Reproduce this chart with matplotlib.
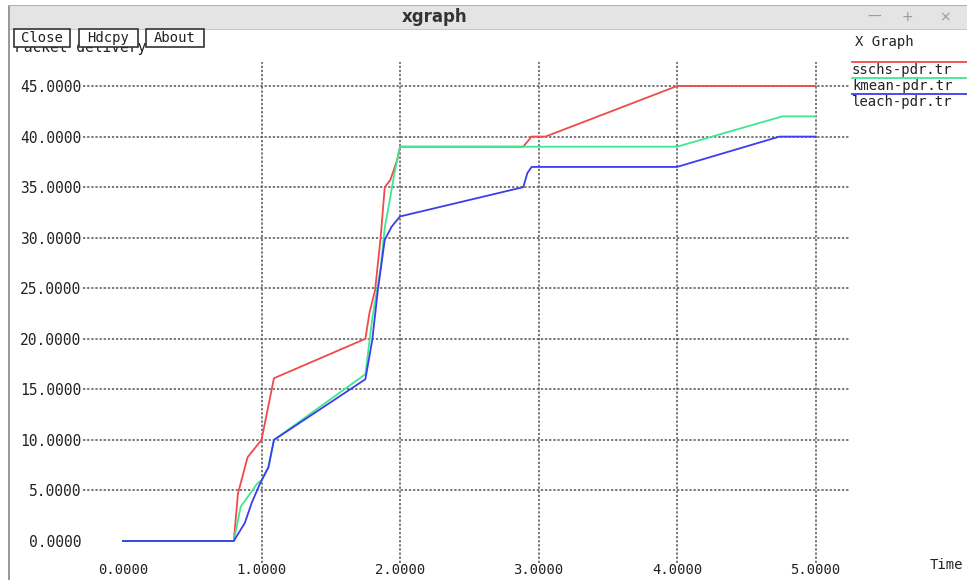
import numpy as np
import matplotlib.pyplot as plt
from matplotlib.patches import Rectangle

# Packet delivery over time for the three protocols
sschs_t = [0.0, 0.80, 0.83, 0.90, 1.00, 1.09, 1.75, 1.78, 1.82, 1.86, 1.89, 1.93, 1.98, 2.00, 2.89, 2.95, 3.05, 4.00, 5.00]
sschs_v = [0.0, 0.0, 4.7, 8.3, 10.0, 16.1, 20.0, 22.6, 24.8, 30.0, 35.0, 35.7, 37.7, 39.0, 39.0, 40.0, 40.0, 45.0, 45.0]

kmean_t = [0.0, 0.80, 0.85, 0.97, 1.00, 1.05, 1.09, 1.75, 1.80, 1.86, 1.89, 1.93, 1.96, 2.00, 4.00, 4.76, 5.00]
kmean_v = [0.0, 0.0, 3.4, 5.7, 6.0, 7.3, 10.0, 16.5, 22.0, 27.0, 31.0, 34.0, 36.4, 39.0, 39.0, 42.0, 42.0]

leach_t = [0.0, 0.80, 0.88, 0.93, 0.99, 1.05, 1.09, 1.75, 1.80, 1.84, 1.89, 1.94, 2.00, 2.89, 2.92, 2.95, 4.00, 4.74, 5.00]
leach_v = [0.0, 0.0, 1.8, 3.8, 5.7, 7.3, 10.0, 16.0, 19.9, 24.8, 29.8, 31.1, 32.1, 35.0, 36.4, 37.0, 37.0, 40.0, 40.0]

names = ['sschs-pdr.tr', 'kmean-pdr.tr', 'leach-pdr.tr']
colors = ['#f04a4a', '#3ee88e', '#3c3cf0']
x_ticks = [0, 1, 2, 3, 4, 5]
y_ticks = [0, 5, 10, 15, 20, 25, 30, 35, 40, 45]

W, H = 967, 580
mono = 'DejaVu Sans Mono'


def px(x, y):
    return x / W, 1 - y / H


fig = plt.figure(figsize=(W / 100, H / 100), dpi=100)
fig.patch.set_facecolor('white')

# window frame and title bar
fig.add_artist(Rectangle(px(8, 30), 1, 25 / H, transform=fig.transFigure,
                         facecolor='#e4e4e4', edgecolor='none'))
fig.add_artist(Rectangle(px(8, 30), 1, 1 / H, transform=fig.transFigure,
                         facecolor='#c8c8c8', edgecolor='none'))
fig.add_artist(Rectangle(px(8, 580), 1.5 / W, 575 / H, transform=fig.transFigure,
                         facecolor='#9a9a9a', edgecolor='none'))
fig.add_artist(Rectangle(px(8, 6), 1, 1 / H, transform=fig.transFigure,
                         facecolor='#b0b0b0', edgecolor='none'))
fig.text(*px(435, 17), 'xgraph', ha='center', va='center', fontsize=12,
         fontweight='bold', color='#333333', family='DejaVu Sans')
for gx, g in [(874, '\u2014'), (907, '+'), (945, '\u00d7')]:
    fig.text(*px(gx, 17), g, ha='center', va='center', fontsize=10, color='#9a9a9a')

# plot area
left, right, top, bottom = 83, 850, 62, 563
x0, xs = 123, 138.5
y0, ys = 541, 10.11
ax = fig.add_axes([left / W, 1 - bottom / H, (right - left) / W, (bottom - top) / H])
ax.set_xlim((left - x0) / xs, (right - x0) / xs)
ax.set_ylim((y0 - bottom) / ys, (y0 - top) / ys)
for s in ax.spines.values():
    s.set_visible(False)

ax.set_xticks(x_ticks)
ax.set_xticklabels(['%.4f' % v for v in x_ticks])
ax.set_yticks(y_ticks)
ax.set_yticklabels(['%.4f' % v for v in y_ticks])
ax.tick_params(length=0, labelsize=10.5, colors='#222222')
ax.tick_params(axis='y', pad=1)
ax.tick_params(axis='x', pad=0, labelsize=10)
for lab in ax.get_xticklabels() + ax.get_yticklabels():
    lab.set_family(mono)

ax.grid(True, color='#555555', linestyle=(0, (1.5, 1.2)), linewidth=1.1)
ax.get_xgridlines()[0].set_visible(False)
ax.get_ygridlines()[0].set_visible(False)

series = [(sschs_t, sschs_v), (kmean_t, kmean_v), (leach_t, leach_v)]
for (t, v), c in zip(series, colors):
    ax.plot(t, v, color=c, linewidth=1.3, zorder=3)

# legend and labels
fig.text(*px(855, 42), 'X Graph', ha='left', va='center', fontsize=10, family=mono, color='#222222')
for i, (n, c) in enumerate(zip(names, colors)):
    ly = 62 + 16 * i
    fig.add_artist(plt.Line2D([852 / W, 1], [1 - ly / H] * 2, color=c, linewidth=1.3,
                              transform=fig.transFigure))
    fig.text(*px(852, ly + 8), n, ha='left', va='center', fontsize=10, family=mono, color='#222222')
fig.text(*px(930, 565), 'Time', ha='left', va='center', fontsize=10, family=mono, color='#222222')
fig.text(*px(15, 52), 'Packet delivery', ha='left', va='baseline', fontsize=10.5,
         family=mono, color='#222222')

# buttons along the top edge
for bx0, bx1, lab in [(14, 70, 'Close'), (79, 138, 'Hdcpy'), (146, 204, 'About')]:
    fig.add_artist(Rectangle(px(bx0, 47), (bx1 - bx0) / W, 18 / H, transform=fig.transFigure,
                             facecolor='white', edgecolor='#333333', linewidth=1.2, zorder=5))
    fig.text(*px((bx0 + bx1) / 2, 38), lab, ha='center', va='center', fontsize=10,
             family=mono, color='#222222', zorder=6)

fig.savefig('out.png', dpi=100)
